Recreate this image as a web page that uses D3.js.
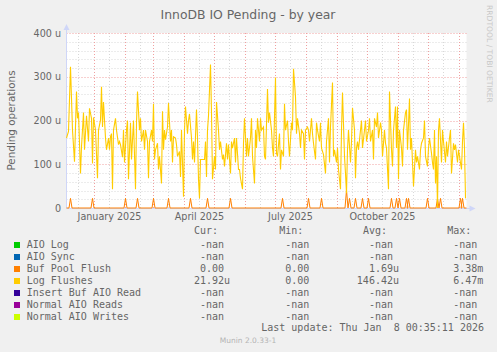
<!DOCTYPE html>
<html>
<head>
<meta charset="utf-8">
<script src="https://cdn.jsdelivr.net/npm/d3@7"></script>
<style>
  body { margin: 0; background: #f0f0f0; }
  svg { display: block; }
  text { fill: #666666; }
  .mono { font-family: "DejaVu Sans Mono", monospace; font-size: 10px; white-space: pre; }
  .sans { font-family: "DejaVu Sans", sans-serif; }
</style>
</head>
<body>
<div id="chart"></div>
<script>
// Data (values in micro-operations, days from graph start)
const logFlushes = [
  [0,160],[2,175],[4,323],[6,178],[8,106],[10,266],[11,205],[12,218],[14,79],[15,140],[17,218],[18,133],
  [20,211],[22,152],[23,228],[25,205],[26,102],[27,207],[29,178],[31,68],[32,178],[34,201],[35,277],[36,185],
  [37,242],[39,160],[40,133],[42,160],[43,133],[44,163],[45,170],[46,43],[47,178],[49,205],[50,178],[52,145],
  [53,152],[54,145],[56,116],[57,178],[58,104],[60,178],[61,200],[62,66],[64,195],[65,111],[67,200],[69,43],
  [70,195],[71,266],[73,178],[74,205],[75,152],[77,178],[78,133],[79,178],[81,152],[82,68],[83,152],[85,178],
  [86,152],[87,238],[88,111],[89,133],[91,148],[92,88],[93,118],[95,56],[96,221],[97,133],[98,178],[99,156],
  [101,185],[102,240],[104,152],[105,178],[106,104],[107,163],[109,160],[110,145],[111,118],[113,129],[114,71],
  [115,178],[117,26],[118,178],[119,232],[121,170],[122,200],[123,215],[125,160],[126,111],[127,152],[128,104],
  [130,225],[131,160],[132,66],[133,22],[134,111],[136,111],[138,111],[139,152],[140,71],[141,178],[142,211],
  [144,328],[145,218],[146,66],[148,118],[149,88],[150,242],[152,178],[153,133],[154,152],[156,111],[157,122],
  [158,95],[160,148],[161,111],[162,145],[164,79],[165,152],[166,137],[168,160],[169,104],[170,160],[172,88],
  [173,88],[174,68],[176,43],[177,148],[178,205],[180,118],[181,160],[182,118],[184,160],[185,205],[186,118],
  [188,56],[189,178],[190,137],[191,205],[193,152],[194,205],[195,178],[197,185],[198,118],[199,111],[201,272],
  [202,195],[203,218],[205,178],[206,137],[207,118],[209,298],[210,125],[211,118],[213,170],[214,88],[215,133],
  [217,118],[218,238],[219,178],[221,200],[222,152],[223,118],[225,195],[226,178],[227,318],[229,254],[230,170],
  [231,205],[233,170],[234,137],[235,178],[237,170],[238,111],[239,178],[241,185],[242,178],[243,152],[245,205],
  [246,170],[247,148],[249,111],[250,195],[251,178],[253,152],[254,195],[255,137],[257,122],[259,79],[260,152],
  [262,205],[263,104],[264,185],[266,287],[267,118],[268,133],[270,104],[271,137],[272,88],[274,43],[275,178],
  [276,264],[278,118],[279,79],[280,34],[281,133],[282,178],[284,104],[285,152],[286,229],[288,178],[289,68],
  [290,137],[291,152],[292,133],[294,178],[295,200],[296,137],[298,178],[299,200],[300,152],[302,178],[303,205],
  [304,152],[306,178],[307,111],[308,205],[310,185],[311,218],[312,160],[314,195],[315,178],[316,118],[318,178],
  [319,148],[320,137],[322,43],[323,266],[325,133],[326,95],[327,178],[329,232],[330,137],[331,232],[332,66],
  [333,178],[335,137],[336,95],[337,178],[339,218],[340,225],[341,133],[343,250],[344,133],[345,160],[347,49],
  [349,133],[350,104],[351,118],[353,88],[354,133],[355,148],[357,160],[358,200],[359,118],[361,95],[362,137],
  [363,160],[365,125],[366,104],[367,88],[368,178],[369,56],[370,118],[371,0],[372,178],[373,205],[375,104],
  [376,178],[377,152],[379,104],[380,152],[381,118],[383,160],[384,178],[385,79],[387,148],[388,133],[389,145],
  [391,104],[392,133],[393,118],[395,88],[396,152],[397,195],[398,137],[399,22]
];
// Buf Pool Flush is zero except for short spikes on these days
const bufFlushDays = [4,26,59,71,87,102,124,141,164,216,242,255,280,283,289,296,302,325,330,333,340,342,361,371,374,394,396];
const bufFlushVals = [22,22,22,22,22,22,22,22,22,22,22,22,41,22,22,22,22,22,22,22,22,22,22,22,22,22,22];

const yTicks = [0, 100, 200, 300, 400];
const yTickLabels = ["0", "100 u", "200 u", "300 u", "400 u"];

const legendNames = ["AIO Log", "AIO Sync", "Buf Pool Flush", "Log Flushes", "Insert Buf AIO Read", "Normal AIO Reads", "Normal AIO Writes"];
const legendColors = ["#00cc00", "#0066b3", "#ff8000", "#ffcc00", "#330099", "#990099", "#ccff00"];
const curVals = ["-nan ", "-nan ", "0.00 ", "21.92u", "-nan ", "-nan ", "-nan "];
const minVals = ["-nan ", "-nan ", "0.00 ", "0.00 ", "-nan ", "-nan ", "-nan "];
const avgVals = ["-nan ", "-nan ", "1.69u", "146.42u", "-nan ", "-nan ", "-nan "];
const maxVals = ["-nan ", "-nan ", "3.38m", "6.47m", "-nan ", "-nan ", "-nan "];

const W = 497, H = 352;
const plot = { left: 66.5, right: 466.5, top: 33, bottom: 208 };

const end = new Date(Date.UTC(2026, 0, 8, 0, 35, 11));
const start = new Date(end.getTime() - 400 * 86400000);
const dayToDate = d => new Date(start.getTime() + d * 86400000);

const svg = d3.select("#chart").append("svg")
    .attr("width", W)
    .attr("height", H);

svg.append("rect").attr("width", W).attr("height", H).attr("fill", "#f0f0f0");
svg.append("rect")
    .attr("x", plot.left).attr("y", plot.top)
    .attr("width", plot.right - plot.left).attr("height", plot.bottom - plot.top)
    .attr("fill", "#ffffff");

const x = d3.scaleUtc().domain([start, end]).range([plot.left, plot.right]);
const y = d3.scaleLinear().domain([0, 400]).range([plot.bottom, plot.top]);

// Horizontal grid: minor every 20u, major every 100u
const grid = svg.append("g");
grid.selectAll(".hmin")
    .data(d3.range(20, 400, 20).filter(v => v % 100 !== 0))
    .join("line")
    .attr("x1", plot.left).attr("x2", plot.right)
    .attr("y1", d => Math.round(y(d)) + 0.5).attr("y2", d => Math.round(y(d)) + 0.5)
    .attr("stroke", "#d8d8d8").attr("stroke-dasharray", "1,2");

// Vertical minor grid (mid month) and major grid (month start)
const midMonths = d3.utcMonth.range(d3.utcMonth.floor(start), end)
    .map(m => d3.utcDay.offset(m, 15))
    .filter(d => d > start && d < end);
grid.selectAll(".vmin")
    .data(midMonths)
    .join("line")
    .attr("x1", d => Math.round(x(d)) + 0.5).attr("x2", d => Math.round(x(d)) + 0.5)
    .attr("y1", plot.top).attr("y2", plot.bottom)
    .attr("stroke", "#d8d8d8").attr("stroke-dasharray", "1,2");

grid.selectAll(".hmaj")
    .data(yTicks.filter(v => v > 0))
    .join("line")
    .attr("x1", plot.left).attr("x2", plot.right)
    .attr("y1", d => Math.round(y(d)) + 0.5).attr("y2", d => Math.round(y(d)) + 0.5)
    .attr("stroke", "#f0a0a0").attr("stroke-dasharray", "1,2");

grid.selectAll(".vmaj")
    .data(d3.utcMonth.range(start, end))
    .join("line")
    .attr("x1", d => Math.round(x(d)) + 0.5).attr("x2", d => Math.round(x(d)) + 0.5)
    .attr("y1", plot.top).attr("y2", plot.bottom)
    .attr("stroke", "#f0a0a0").attr("stroke-dasharray", "1,2");

// Axes lines and arrows
svg.append("line")
    .attr("x1", plot.left).attr("x2", plot.left)
    .attr("y1", plot.bottom).attr("y2", plot.top - 4)
    .attr("stroke", "#cfd6f8");
svg.append("line")
    .attr("x1", plot.left).attr("x2", plot.right + 4)
    .attr("y1", plot.bottom + 0.5).attr("y2", plot.bottom + 0.5)
    .attr("stroke", "#cfd6f8");
svg.append("path")
    .attr("d", `M${plot.left - 3},${plot.top - 3}L${plot.left},${plot.top - 9}L${plot.left + 3},${plot.top - 3}Z`)
    .attr("fill", "#cfd6f8");
svg.append("path")
    .attr("d", `M${plot.right + 3},${plot.bottom - 2.5}L${plot.right + 9},${plot.bottom + 0.5}L${plot.right + 3},${plot.bottom + 3.5}Z`)
    .attr("fill", "#cfd6f8");

// Y tick labels
svg.selectAll(".ylab")
    .data(yTicks)
    .join("text")
    .attr("class", "sans")
    .attr("x", 61).attr("y", d => y(d) + 3.5)
    .attr("text-anchor", "end")
    .attr("font-size", "9.6px")
    .text((d, i) => yTickLabels[i]);

// X labels: quarter months, centred on mid month
const xLabelDates = d3.utcMonth.every(3).range(start, end)
    .map(m => d3.utcDay.offset(m, 15))
    .filter(d => d < end);
svg.selectAll(".xlab")
    .data(xLabelDates)
    .join("text")
    .attr("class", "sans")
    .attr("x", d => x(d)).attr("y", 219.5)
    .attr("text-anchor", "middle")
    .attr("font-size", "9.6px")
    .text(d => d3.utcFormat("%B %Y")(d));

// Series
const line = d3.line()
    .x(d => x(dayToDate(d[0])))
    .y(d => y(d[1]));

const bufPoints = [[0, 0]];
bufFlushDays.forEach((d, i) => {
    bufPoints.push([d - 1.5, 0], [d, bufFlushVals[i]], [d + 1.5, 0]);
});
bufPoints.push([400, 0]);

svg.append("path")
    .datum(bufPoints)
    .attr("d", line)
    .attr("fill", "none")
    .attr("stroke", legendColors[2])
    .attr("stroke-width", 1);

svg.append("path")
    .datum(logFlushes)
    .attr("d", line)
    .attr("fill", "none")
    .attr("stroke", legendColors[3])
    .attr("stroke-width", 1.1);

// Title and axis label
svg.append("text")
    .attr("class", "sans")
    .attr("x", 248).attr("y", 18.5)
    .attr("text-anchor", "middle")
    .attr("font-size", "12.4px")
    .text("InnoDB IO Pending - by year");

svg.append("text")
    .attr("class", "sans")
    .attr("transform", `translate(15,${(plot.top + plot.bottom) / 2}) rotate(-90)`)
    .attr("text-anchor", "middle")
    .attr("font-size", "10.4px")
    .text("Pending operations");

svg.append("text")
    .attr("class", "sans")
    .attr("transform", "translate(487,5) rotate(90)")
    .attr("font-size", "7.6px")
    .style("fill", "#c8c8c8")
    .text("RRDTOOL / TOBI OETIKER");

// Legend
const colX = { cur: 230, min: 315.3, avg: 399, max: 483.3 };
const headY = 234;
const rowY = i => 248 + i * 12;

[["Cur:", colX.cur], ["Min:", colX.min], ["Avg:", colX.avg], ["Max:", colX.max]].forEach(([t, cx]) => {
    svg.append("text").attr("class", "mono")
        .attr("x", cx - 12).attr("y", headY)
        .attr("text-anchor", "end")
        .text(t);
});

const rows = svg.selectAll(".leg")
    .data(legendNames)
    .join("g");

rows.append("rect")
    .attr("x", 14).attr("y", (d, i) => rowY(i) - 6)
    .attr("width", 6).attr("height", 6)
    .attr("fill", (d, i) => legendColors[i]);

rows.append("text").attr("class", "mono")
    .attr("x", 26.7).attr("y", (d, i) => rowY(i))
    .text(d => d);

const cols = [[curVals, colX.cur], [minVals, colX.min], [avgVals, colX.avg], [maxVals, colX.max]];
cols.forEach(([vals, cx]) => {
    rows.append("text").attr("class", "mono")
        .attr("x", cx).attr("y", (d, i) => rowY(i))
        .attr("text-anchor", "end")
        .text((d, i) => vals[i]);
});

svg.append("text").attr("class", "mono")
    .attr("x", 484).attr("y", 330.5)
    .attr("text-anchor", "end")
    .text("Last update: Thu Jan  8 00:35:11 2026");

svg.append("text")
    .attr("class", "sans")
    .attr("x", 248).attr("y", 343)
    .attr("text-anchor", "middle")
    .attr("font-size", "7.5px")
    .style("fill", "#b4b4b4")
    .text("Munin 2.0.33-1");
</script>
</body>
</html>
